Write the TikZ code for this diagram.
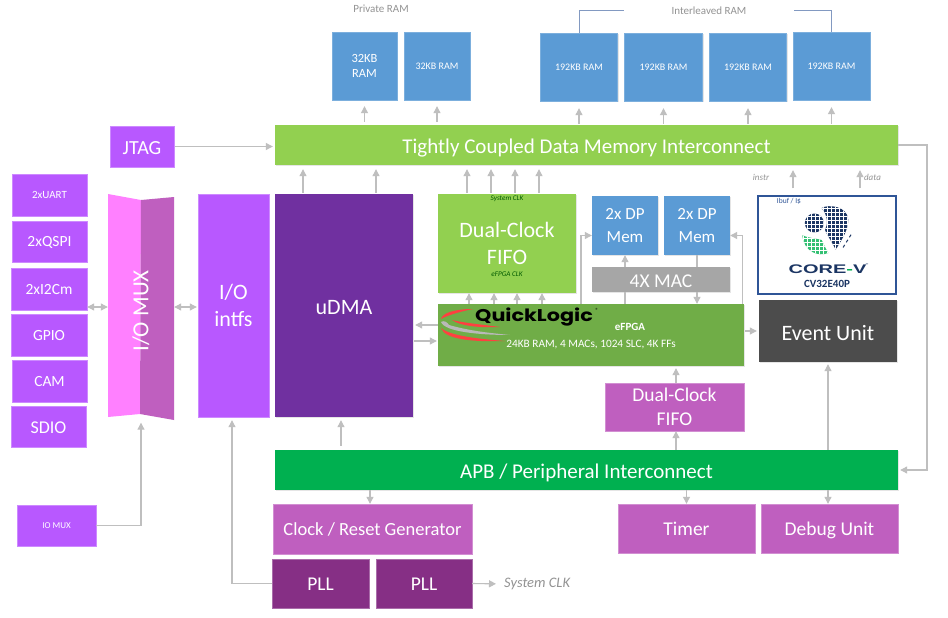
\documentclass[tikz,border=0pt]{standalone}
\usepackage{fontspec}
\setmainfont{Carlito}
\newfontfamily\logofont{Poppins}
\newfontfamily\wordfont{Liberation Sans}
\usetikzlibrary{arrows.meta, shadows}
\newcommand{\fs}[2]{\fontsize{#1}{#2}\selectfont}
\definecolor{limebox}{HTML}{92D050}
\definecolor{bluebox}{HTML}{5B9BD5}
\definecolor{violetbox}{HTML}{B858FF}
\definecolor{pinkbox}{HTML}{BF5FBF}
\definecolor{muxpink}{HTML}{FF80FF}
\definecolor{plumbox}{HTML}{862F85}
\definecolor{deepbox}{HTML}{7030A0}
\definecolor{fpgabox}{HTML}{70AD47}
\definecolor{apbbox}{HTML}{00B050}
\definecolor{navyline}{HTML}{2F5597}
\definecolor{navylogo}{HTML}{1B3563}
\definecolor{wire}{HTML}{BFBFBF}
\tikzset{
    >={Triangle[length=7pt,width=7pt]}, % makes the arrow heads solid
    cell/.style={inner sep=0pt, align=center, text=white, text depth=0pt, drop shadow={opacity=.2, shadow xshift=1pt, shadow yshift=-1pt}},
    sunk/.style={execute at begin node={\rule{0pt}{#1em}}}, % large text sits a little lower in its box
    ramcell/.style={cell, fill=bluebox, draw=bluebox!80!white, font=\fs{10}{15}, minimum height=68pt},
    buscell/.style={cell, sunk=.83, minimum width=623pt, minimum height=40pt, font=\fs{21}{25}},
    iocell/.style={cell, fill=violetbox, draw=violetbox!70!white, font=\fs{15.5}{18}},
    pinkcell/.style={cell, sunk=.74, fill=pinkbox, draw=pinkbox!70!white, font=\fs{19.5}{24}},
    plumcell/.style={cell, sunk=.74, fill=plumbox, draw=plumbox!70!white, font=\fs{19.5}{22}},
    memcell/.style={cell, fill=bluebox, font=\fs{17}{23}, minimum width=66pt, minimum height=59pt},
    note/.style={inner sep=0pt, text=gray!85, font=\fs{11}{13}},
    tiny/.style={inner sep=0pt, text=gray!85, font=\fs{9}{10}\itshape},
    link/.style={->, draw=wire, line width=1.1pt, shorten <=1pt, shorten >=2pt}, % grey arrow between two blocks
    wire/.style={draw=wire, line width=1.1pt}, % same without a tip
    bracket/.style={draw=navyline!60, line width=1pt},
}
\begin{document}
\begin{tikzpicture}[x=1pt, y=-1pt]
    \path[use as bounding box, fill=white] (0,0) rectangle (948,618);
    % memories
    \node[ramcell, minimum width=65pt, font=\fs{12.5}{15}] (ram1) at (364.5,66) {32KB\\RAM};
    \node[ramcell, minimum width=66pt] (ram2) at (437,66) {32KB RAM};
    \node[ramcell, minimum width=77pt] (ram3) at (579,67) {192KB RAM};
    \node[ramcell, minimum width=78pt] (ram4) at (663.5,67) {192KB RAM};
    \node[ramcell, minimum width=77pt] (ram5) at (748,67) {192KB RAM};
    \node[ramcell, minimum width=77pt] (ram6) at (831.5,66) {192KB RAM};
    \node[note] (privatelabel) at (381,9) {Private RAM};
    \node[note, minimum width=169pt] (sharedlabel) at (709,11) {Interleaved RAM};
    % buses
    \node[buscell, fill=limebox] (tcdm) at (586.5,145) {Tightly Coupled Data Memory Interconnect};
    \node[buscell, fill=apbbox] (apb) at (586.5,470) {APB / Peripheral Interconnect};
    % left column
    \node[iocell, sunk=.83, minimum width=64pt, minimum height=41pt, font=\fs{20}{24}] (jtag) at (142,146.5) {JTAG};
    \node[iocell, minimum width=75pt, minimum height=42pt, font=\fs{11}{13}] (uart) at (49.5,195) {2xUART};
    \node[iocell, minimum width=75pt, minimum height=41pt] (qspi) at (49.5,241.5) {2xQSPI};
    \node[iocell, minimum width=76pt, minimum height=42pt] (i2cm) at (49,289) {2xI2Cm};
    \node[iocell, minimum width=76pt, minimum height=42pt] (gpio) at (49,335) {GPIO};
    \node[iocell, minimum width=75pt, minimum height=42pt] (cam) at (49.5,381) {CAM};
    \node[iocell, sunk=.74, minimum width=75pt, minimum height=41pt, font=\fs{18}{21}] (sdio) at (48.5,426.5) {SDIO};
    \node[iocell, minimum width=79pt, minimum height=41pt, font=\fs{9}{11}] (muxsel) at (56.5,525.5) {IO MUX};
    % folded mux
    \fill[muxpink] (108,194) -- (141,200) -- (140,414) -- (108,417) -- cycle;
    \fill[pinkbox] (141,200) -- (174,197) -- (174,420) -- (140,414) -- cycle;
    \node[inner sep=0pt, minimum width=66pt, minimum height=223pt] (iomux) at (141,307) {};
    \node[rotate=90, text=white, inner sep=0pt, font=\fs{23}{27}] (iomuxname) at (141,311) {I/O MUX};
    \node[iocell, sunk=.95, minimum width=71pt, minimum height=223pt, font=\fs{22}{27}] (intfs) at (233.5,305.5) {I/O\\intfs};
    \node[cell, sunk=.83, fill=deepbox, minimum width=138pt, minimum height=223pt, font=\fs{22}{26}] (udma) at (344,305.5) {uDMA};
    % fabric
    \node[cell, sunk=.95, fill=limebox, minimum width=138pt, minimum height=99pt, font=\fs{22}{27}] (fifo) at (507,243.5) {Dual-Clock\\FIFO};
    \node[inner sep=0pt, text=black!65!green, font=\fs{7.2}{8}\itshape] (fifotop) at (507,199) {System CLK};
    \node[inner sep=0pt, text=black!65!green, font=\fs{7.2}{8}\itshape] (fifobottom) at (507,274) {eFPGA CLK};
    \node[memcell] (mem1) at (625,225.5) {2x DP\\Mem};
    \node[memcell] (mem2) at (697,225.5) {2x DP\\Mem};
    \node[cell, sunk=.83, fill=gray!70, minimum width=138pt, minimum height=25pt, font=\fs{19.5}{23}] (mac) at (661,279.5) {4X MAC};
    \node[cell, fill=fpgabox, minimum width=306pt, minimum height=62pt] (efpga) at (591,335) {};
    \node[inner sep=0pt, text=white, font=\fs{11}{13}\bfseries] (efpganame) at (630,327) {eFPGA};
    \node[inner sep=0pt, text=white, font=\fs{11.3}{14}] (efpgainfo) at (591,345) {24KB RAM, 4 MACs, 1024 SLC, 4K FFs};
    % quicklogic mark
    \fill[red!75!white] (473,309) .. controls (455,309) and (442,313) .. (441,319) .. controls (446,316) and (458,312) .. (473,309) -- cycle;
    \fill[red!75!white] (452,320) .. controls (465,323) and (485,325) .. (500,327) .. controls (480,328) and (460,326) .. (452,320) -- cycle;
    \fill[gray!55] (441,322) .. controls (444,320) and (447,322) .. (449,325) .. controls (470,331) and (490,333) .. (510,335) .. controls (480,335) and (445,332) .. (441,322) -- cycle;
    \fill[red!75!white] (441,328) .. controls (450,336) and (480,339) .. (505,341) .. controls (475,342) and (445,340) .. (441,328) -- cycle;
    \node[inner sep=0pt, text=black, font=\logofont\fs{17}{20}\bfseries, xscale=1.22] (qlname) at (534,317) {QuickLogic};
    \node[inner sep=0pt, text=black, font=\fs{6}{7}] (qlmark) at (597,310) {®};
    % core
    \node[cell, fill=white, draw=navyline, line width=1.5pt, minimum width=138pt, minimum height=98pt] (core) at (827,245) {};
    \node[inner sep=0pt, text=navyline, font=\fs{7.5}{9}] (ibuf) at (789,201.5) {Ibuf / I\$};
    \begin{scope}
        \clip (814.3,223) circle (9.5)
              (821.7,208) .. controls (828,204) and (848,206) .. (848.3,220) .. controls (848,232) and (840,242) .. (835.7,249.7) .. controls (832,242) and (827,235) .. (825,230) .. controls (828,224) and (828,216) .. (821.7,208) -- cycle;
        \fill[navylogo] (800,200) rectangle (855,255);
        \foreach \i in {0,...,13} {
            \draw[white, line width=.6pt] (803+4*\i,200) -- (803+4*\i,255);
            \draw[white, line width=.6pt] (800,204+4*\i) -- (855,204+4*\i);
        }
    \end{scope}
    \begin{scope}
        \clip (802.3,235.3) .. controls (808,238) and (815,238) .. (821.7,240) .. controls (824,245) and (826,249) .. (828.3,253) .. controls (818,257) and (804,252) .. (802.3,235.3) -- cycle;
        \fill[apbbox!80!white] (800,233) rectangle (830,258);
        \foreach \i in {0,...,7} {
            \draw[white, line width=.6pt] (803+4*\i,233) -- (803+4*\i,258);
            \draw[white, line width=.6pt] (800,234+4*\i) -- (830,234+4*\i);
        }
    \end{scope}
    \draw[navylogo, line width=1pt, dashed] (851,234.7) -- (841.7,249.7);
    \node[inner sep=0pt, text=navylogo, font=\wordfont\fs{12.5}{14}\bfseries, xscale=1.6] (corename) at (827.5,269) {CORE\textcolor{apbbox}{-}V};
    \node[inner sep=0pt, text=navylogo, font=\fs{4}{5}] (coretm) at (867,265) {™};
    \node[inner sep=0pt, text=navylogo, font=\fs{11}{13}\bfseries] (corechip) at (827,284) {CV32E40P};
    \node[cell, sunk=.83, fill=black!70, minimum width=138pt, minimum height=62pt, font=\fs{22}{26}] (event) at (828,331) {Event Unit};
    \node[pinkcell, sunk=.9, minimum width=139pt, minimum height=48pt] (apbfifo) at (674.5,407) {Dual-Clock\\FIFO};
    % bottom row
    \node[pinkcell, minimum width=199pt, minimum height=50pt, font=\fs{18.5}{22}] (clock) at (372.5,529) {Clock / Reset Generator};
    \node[plumcell, minimum width=97pt, minimum height=49pt] (pll1) at (320.5,583.5) {PLL};
    \node[plumcell, minimum width=96pt, minimum height=49pt] (pll2) at (424,583.5) {PLL};
    \node[pinkcell, minimum width=137pt, minimum height=49pt] (timer) at (686.5,528.5) {Timer};
    \node[pinkcell, minimum width=137pt, minimum height=49pt] (debug) at (829.5,528.5) {Debug Unit};
    \node[tiny, font=\fs{14.5}{17}\itshape, anchor=west] (sysclk) at (504,584) {System CLK};
    \node[tiny] (instrlabel) at (761,177) {instr};
    \node[tiny] (datalabel) at (872.5,177) {data};
    \coordinate (busturn) at (927,300);
    % connectors
    \draw[bracket] (ram3.north) |- (sharedlabel.west);
    \draw[bracket] (ram6.north) |- (sharedlabel.east);
    \draw[link, shorten <=3pt, shorten >=6pt] (ram1 |- tcdm.north) -- (ram1.south);
    \draw[link, shorten <=3pt, shorten >=6pt] (ram2 |- tcdm.north) -- (ram2.south);
    \draw[link, shorten <=1pt, shorten >=7pt] (ram3 |- tcdm.north) -- (ram3.south);
    \draw[link, shorten <=1pt, shorten >=7pt] (ram4 |- tcdm.north) -- (ram4.south);
    \draw[link, shorten <=1pt, shorten >=7pt] (ram5 |- tcdm.north) -- (ram5.south);
    \draw[link, shorten <=1pt, shorten >=7pt] (ram6 |- tcdm.north) -- (ram6.south);
    \draw[link] (jtag.east) -- (jtag.east -| tcdm.west);
    \draw[link, shorten <=0pt] (tcdm.east) -| (busturn) |- (apb.east);
    \foreach \dx in {-41,32} {
        \draw[link, shorten <=1pt, shorten >=4pt] ([xshift=\dx pt]udma.north) -- ([xshift=\dx pt]udma.north |- tcdm.south);
    }
    \foreach \dx in {-40,-16,8,32} {
        \draw[link, shorten <=1pt, shorten >=4pt] ([xshift=\dx pt]fifo.north) -- ([xshift=\dx pt]fifo.north |- tcdm.south);
    }
    \foreach \dx in {-38,-13,10,35} {
        \draw[link, shorten <=0pt, shorten >=0pt] ([xshift=\dx pt]fifo.south |- efpga.north) -- ([xshift=\dx pt]fifo.south);
    }
    \draw[link, shorten <=7pt, shorten >=5pt] ([xshift=-34pt]core.north) -- ([xshift=-34pt]core.north |- tcdm.south);
    \draw[link, shorten <=7pt, shorten >=5pt] ([xshift=33pt]core.north) -- ([xshift=33pt]core.north |- tcdm.south);
    \draw[link, shorten <=0pt, shorten >=0pt] ([xshift=-10pt]efpga.north) |- ([yshift=-10pt]mem1.west);
    \draw[link, shorten <=0pt, shorten >=0pt] ([xshift=-2pt]efpga.north east) |- ([yshift=-10pt]mem2.east);
    \draw[wire] (mem1 |- efpga.north) -- (mem1 |- mac.south);
    \draw[link, shorten <=0pt, shorten >=0pt] (mem1 |- mac.north) -- (mem1.south);
    \draw[wire] (mem2.south) -- (mem2 |- mac.north);
    \draw[link, shorten <=0pt, shorten >=0pt] (mem2 |- mac.south) -- (mem2 |- efpga.north);
    \draw[link, shorten <=0pt] ([yshift=10pt]efpga.west) -- ([yshift=10pt]efpga.west -| udma.east);
    \draw[link, shorten >=1pt] ([yshift=-6pt]efpga.west -| udma.east) -- ([yshift=-6pt]efpga.west);
    \draw[link, shorten <=1pt] (efpga.east |- event) -- (event.west);
    \draw[link, shorten <=0pt] ([xshift=1.5pt]apbfifo.north) -- ([xshift=1.5pt]apbfifo.north |- efpga.south);
    \draw[link, shorten <=0pt, shorten >=0pt] ([xshift=1.5pt]apbfifo.south |- apb.north) -- ([xshift=1.5pt]apbfifo.south);
    \draw[link, shorten <=0pt] (event |- apb.north) -- (event.south);
    \draw[link, shorten <=0pt, shorten >=0pt] (event |- apb.south) -- (event |- debug.north);
    \draw[link, shorten <=0pt, shorten >=0pt] (timer |- apb.south) -- (timer.north);
    \draw[link, shorten <=0pt, shorten >=0pt] ([xshift=-2.5pt]clock.north |- apb.south) -- ([xshift=-2.5pt]clock.north);
    \draw[link, shorten <=4pt, shorten >=3pt] ([xshift=-3pt]udma.south |- apb.north) -- ([xshift=-3pt]udma.south);
    \draw[link, shorten <=0pt, shorten >=3pt] (pll1.west) -| ([xshift=-1.5pt]intfs.south);
    \draw[link, shorten <=0pt, shorten >=8pt] (pll2.east) -- (sysclk.west);
    \draw[link, shorten <=0pt, shorten >=4pt] (muxsel.east) -| (iomux.south);
    \draw[link, <->, shorten <=0pt, shorten >=0pt] (i2cm.east |- iomux.center) -- (iomux.west);
    \draw[link, <->, shorten <=0pt, shorten >=1pt] (iomux.east) -- (iomux.east -| intfs.west);
\end{tikzpicture}
\end{document}
